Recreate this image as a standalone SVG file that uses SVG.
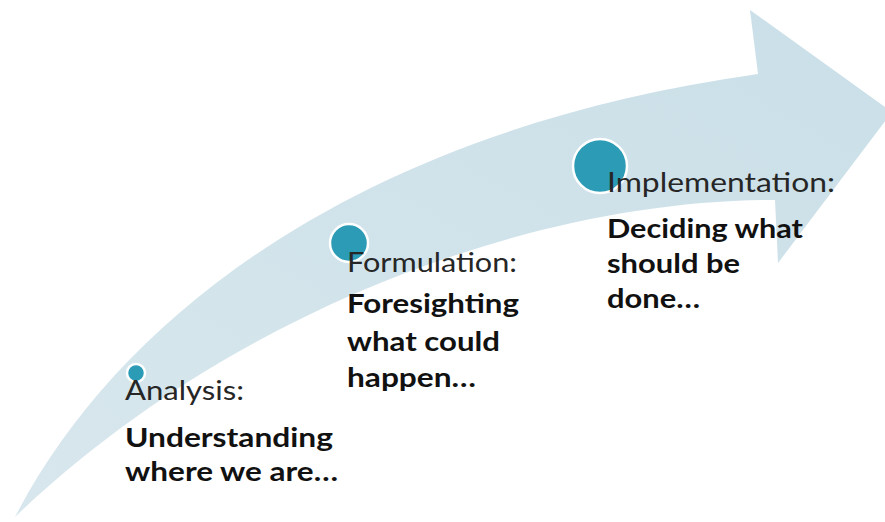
<svg xmlns="http://www.w3.org/2000/svg" width="885" height="522" viewBox="0 0 885 522">
<defs>
<linearGradient id="band" x1="0" y1="1" x2="1" y2="0">
<stop offset="0" stop-color="#d8e7ed"/>
<stop offset="1" stop-color="#cadfe8"/>
</linearGradient>
<style>
.dot{fill:#2b9bb6;stroke:#ffffff;stroke-width:2.5}
.head{font-family:Lato,"Open Sans",sans-serif;font-size:26px;fill:#262626}
.body{font-family:Lato,"Open Sans",sans-serif;font-size:26px;font-weight:bold;fill:#111111}
</style>
</defs>
<g id="arrow">
<path d="M15,517 C120,315 360,130 758,74 L750,10 L892,112 L778,263 L775,200 C520,200 220,320 15,517 Z" fill="url(#band)"/>
</g>
<g id="connectors"></g>
<g id="analysis">
<circle class="dot" cx="136" cy="373" r="9"/>
<text class="head" x="125" y="400" textLength="119" lengthAdjust="spacingAndGlyphs">Analysis:</text>
<text class="body" x="125" y="447" textLength="208" lengthAdjust="spacingAndGlyphs">Understanding</text>
<text class="body" x="125" y="481" textLength="213" lengthAdjust="spacingAndGlyphs">where we are…</text>
</g>
<g id="formulation">
<circle class="dot" cx="349" cy="243" r="19"/>
<text class="head" x="347" y="272" textLength="170" lengthAdjust="spacingAndGlyphs">Formulation:</text>
<text class="body" x="347" y="313" textLength="172" lengthAdjust="spacingAndGlyphs">Foresighting</text>
<text class="body" x="347" y="351" textLength="153" lengthAdjust="spacingAndGlyphs">what could</text>
<text class="body" x="347" y="387" textLength="129" lengthAdjust="spacingAndGlyphs">happen…</text>
</g>
<g id="implementation">
<circle class="dot" cx="600" cy="166" r="27"/>
<text class="head" x="607" y="192" textLength="228" lengthAdjust="spacingAndGlyphs">Implementation:</text>
<text class="body" x="607" y="238" textLength="196" lengthAdjust="spacingAndGlyphs">Deciding what</text>
<text class="body" x="607" y="273" textLength="133" lengthAdjust="spacingAndGlyphs">should be</text>
<text class="body" x="607" y="308" textLength="93" lengthAdjust="spacingAndGlyphs">done…</text>
</g>
</svg>
